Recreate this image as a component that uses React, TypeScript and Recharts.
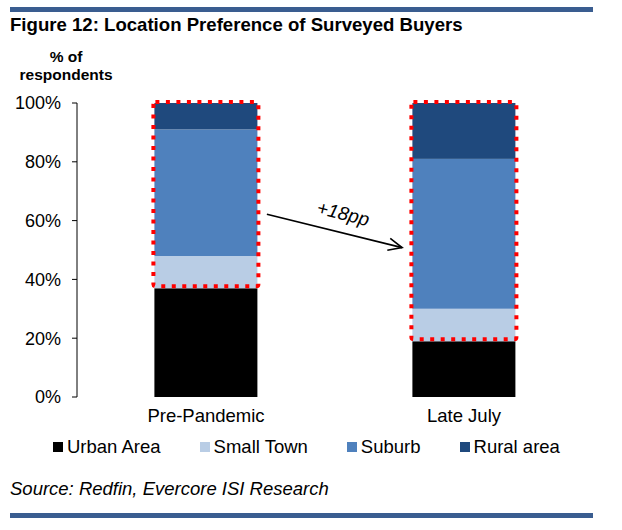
import React from "react";
import { BarChart, Bar, XAxis, YAxis, Legend, ReferenceLine } from "recharts";

// values (% of respondents)
const periods = ["Pre-Pandemic", "Late July"];
const urbanArea = [37, 19];
const smallTown = [11, 11];
const suburb = [43, 51];
const ruralArea = [9, 19];
const yTicks = [0, 20, 40, 60, 80, 100];
const edgeTicks = [0, 1, 2];

// arrow annotation, anchored on the two categories (y in %)
const arrowEnds = [67.3, 45.6];
const arrowLabel = "+18pp";

const seriesKeys = ["urban", "smallTown", "suburb", "rural"];
const seriesNames = ["Urban Area", "Small Town", "Suburb", "Rural area"];
const seriesColors = ["#000000", "#B9CDE5", "#4F81BD", "#1F497D"];

const FONT = '"Liberation Sans", Arial, sans-serif';
const RULE = "#3A5D90";

const chartData = periods.map((period, i) => ({
  period,
  urban: urbanArea[i],
  smallTown: smallTown[i],
  suburb: suburb[i],
  rural: ruralArea[i],
}));

// top segment also draws the red dotted box around the non-urban share
function RuralWithOutline(props: any) {
  const { x, y, width, height, payload, fill } = props;
  const perUnit = height / payload.rural;
  const bottom = y + height + (payload.suburb + payload.smallTown) * perUnit;
  return (
    <g>
      <rect x={x} y={y} width={width} height={height} fill={fill} />
      <rect
        x={x - 1}
        y={y - 1}
        width={width + 2}
        height={bottom - y - 1}
        rx={2}
        fill="none"
        stroke="#FF0000"
        strokeWidth={4}
        strokeDasharray="4 6.5"
      />
    </g>
  );
}

function TrendArrow(props: any) {
  const { x1, y1, x2, y2 } = props;
  const at = (t: number) => [x1 + (x2 - x1) * t, y1 + (y2 - y1) * t];
  const [sx, sy] = at(0.236);
  const [ex, ey] = at(0.76);
  const [mx, my] = at(0.514);
  const ang = Math.atan2(ey - sy, ex - sx);
  const head = 15;
  const spread = 0.42;
  const h1x = ex - head * Math.cos(ang - spread);
  const h1y = ey - head * Math.sin(ang - spread);
  const h2x = ex - head * Math.cos(ang + spread);
  const h2y = ey - head * Math.sin(ang + spread);
  const lx = mx + Math.sin(ang) * 19;
  const ly = my - Math.cos(ang) * 19;
  const deg = (ang * 180) / Math.PI;
  return (
    <g>
      <line x1={sx} y1={sy} x2={ex} y2={ey} stroke="#000" strokeWidth={1.6} />
      <polyline
        points={`${h1x},${h1y} ${ex},${ey} ${h2x},${h2y}`}
        fill="none"
        stroke="#000"
        strokeWidth={1.6}
      />
      <text
        x={lx}
        y={ly}
        transform={`rotate(${deg} ${lx} ${ly})`}
        textAnchor="middle"
        dominantBaseline="central"
        fontStyle="italic"
        fontSize={19}
        fontFamily={FONT}
        fill="#000"
      >
        {arrowLabel}
      </text>
    </g>
  );
}

function LegendRow() {
  return (
    <div
      style={{
        display: "flex",
        height: 20,
        lineHeight: "20px",
        paddingLeft: 53,
        gap: 39,
        fontFamily: FONT,
        fontSize: 18.5,
        color: "#000",
      }}
    >
      {seriesNames.map((name, i) => (
        <div key={name} style={{ display: "flex", alignItems: "center" }}>
          <span
            style={{
              display: "inline-block",
              width: 10,
              height: 10,
              background: seriesColors[i],
              marginRight: 4,
            }}
          />
          <span>{name}</span>
        </div>
      ))}
    </div>
  );
}

export default function App() {
  return (
    <div
      style={{
        position: "absolute",
        left: 0,
        top: 0,
        width: 622,
        height: 530,
        background: "#fff",
        fontFamily: FONT,
        color: "#000",
      }}
    >
      <div style={{ position: "absolute", left: 10, top: 7, width: 583, height: 5, background: RULE }} />
      <div
        style={{
          position: "absolute",
          left: 10,
          top: 14,
          fontSize: 18.6,
          fontWeight: "bold",
          lineHeight: "22px",
          whiteSpace: "nowrap",
        }}
      >
        Figure 12: Location Preference of Surveyed Buyers
      </div>
      <div
        style={{
          position: "absolute",
          left: 6,
          top: 48,
          width: 120,
          textAlign: "center",
          fontSize: 15.5,
          fontWeight: "bold",
          lineHeight: "18px",
        }}
      >
        % of
        <br />
        respondents
      </div>

      <div style={{ position: "absolute", left: 0, top: 0 }}>
        <BarChart
          width={622}
          height={470}
          data={chartData}
          margin={{ top: 103, right: 29, left: 17, bottom: 13 }}
          barCategoryGap="30%"
        >
          <XAxis
            type="number"
            domain={[0, 2]}
            ticks={edgeTicks}
            allowDataOverflow
            height={0}
            tickFormatter={() => ""}
            axisLine={{ stroke: "#000" }}
            tickLine={{ stroke: "#000" }}
            tickSize={5}
          />
          <XAxis
            xAxisId="cat"
            dataKey="period"
            height={40}
            axisLine={false}
            tickLine={false}
            tickSize={0}
            tickMargin={12}
            tick={{ fontSize: 18.5, fill: "#000", fontFamily: FONT }}
          />
          <YAxis
            width={60}
            domain={[0, 100]}
            ticks={yTicks}
            tickFormatter={(v) => `${v}%`}
            axisLine={{ stroke: "#000" }}
            tickLine={{ stroke: "#000" }}
            tickSize={5}
            tickMargin={11}
            tick={{ fontSize: 18, fill: "#000", fontFamily: FONT }}
          />
          {seriesKeys.map((key, i) => (
            <Bar
              key={key}
              xAxisId="cat"
              dataKey={key}
              name={seriesNames[i]}
              stackId="share"
              fill={seriesColors[i]}
              isAnimationActive={false}
              shape={key === "rural" ? RuralWithOutline : undefined}
            />
          ))}
          <ReferenceLine
            xAxisId="cat"
            segment={[
              { x: periods[0], y: arrowEnds[0] },
              { x: periods[1], y: arrowEnds[1] },
            ]}
            shape={TrendArrow}
          />
          <Legend
            verticalAlign="bottom"
            height={20}
            wrapperStyle={{ left: 0, width: 622 }}
            content={() => <LegendRow />}
          />
        </BarChart>
      </div>

      <div
        style={{
          position: "absolute",
          left: 10,
          top: 478,
          fontSize: 18.5,
          fontStyle: "italic",
          lineHeight: "22px",
          whiteSpace: "nowrap",
        }}
      >
        Source: Redfin, Evercore ISI Research
      </div>
      <div style={{ position: "absolute", left: 10, top: 513, width: 583, height: 5, background: RULE }} />
    </div>
  );
}
